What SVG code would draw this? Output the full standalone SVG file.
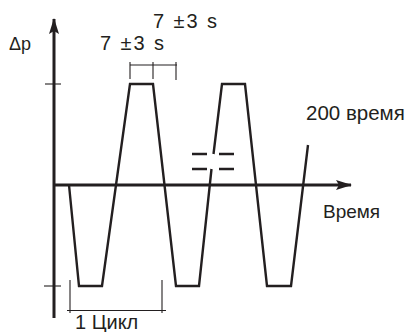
<svg xmlns="http://www.w3.org/2000/svg" width="409" height="332" viewBox="0 0 409 332">
<style>
.axis{stroke:#231f20;stroke-width:3;fill:none}
.wave{stroke:#231f20;stroke-width:2.4;fill:none;stroke-linejoin:miter}
.thin{stroke:#231f20;stroke-width:1.1;fill:none}
.dash{stroke:#231f20;stroke-width:2.5;fill:none}
.t{font-family:"Liberation Sans",Arial,sans-serif;fill:#231f20}
</style>
<defs>
<marker id="ah" viewBox="0 0 16 10" refX="15" refY="5" markerWidth="16" markerHeight="10" markerUnits="userSpaceOnUse" orient="auto">
<path d="M0,0 L16,5 L0,10 L3,5 Z" fill="#231f20"/>
</marker>
</defs>
<rect width="409" height="332" fill="#fff"/>
<g id="connectors">
<line id="y-axis" class="axis" x1="54" y1="318" x2="54" y2="19" marker-end="url(#ah)"/>
<line id="x-axis" class="axis" x1="54" y1="185" x2="351" y2="185" marker-end="url(#ah)"/>
<line class="thin" x1="45" y1="84" x2="61" y2="84"/>
<line class="thin" x1="44" y1="286" x2="61" y2="286"/>
</g>
<g id="waveform">
<polyline class="wave" points="69,185 79,286 102,286 130,84 153,84 176,286 199,286 211.5,169"/>
<polyline class="wave" points="213.5,154 222,84 245,84 267,286 291,286 308,145"/>
</g>
<g id="break">
<line class="dash" x1="192" y1="154" x2="207" y2="154"/>
<line class="dash" x1="219" y1="154" x2="234" y2="154"/>
<line class="dash" x1="192" y1="169" x2="207" y2="169"/>
<line class="dash" x1="219" y1="169" x2="234" y2="169"/>
</g>
<g id="timing-ticks">
<line class="thin" x1="130" y1="65" x2="177" y2="65"/>
<line class="thin" x1="130" y1="62" x2="130" y2="79"/>
<line class="thin" x1="153" y1="62" x2="153" y2="79"/>
<line class="thin" x1="176" y1="62" x2="176" y2="80"/>
</g>
<g id="cycle">
<line class="thin" x1="70" y1="280" x2="70" y2="313"/>
<line class="thin" x1="162" y1="280" x2="162" y2="313"/>
<line class="thin" x1="67" y1="310.5" x2="166" y2="310.5"/>
<text class="t" x="75" y="329" font-size="20">1 Цикл</text>
</g>
<g id="labels">
<text class="t" x="9" y="50" font-size="18">Δp</text>
<text class="t" x="100" y="50" font-size="20" textLength="64" lengthAdjust="spacing">7 ±3 s</text>
<text class="t" x="153" y="28" font-size="20" textLength="64" lengthAdjust="spacing">7 ±3 s</text>
<text class="t" x="306" y="120" font-size="20.5">200 время</text>
<text class="t" x="323" y="218" font-size="19">Время</text>
</g>
</svg>
